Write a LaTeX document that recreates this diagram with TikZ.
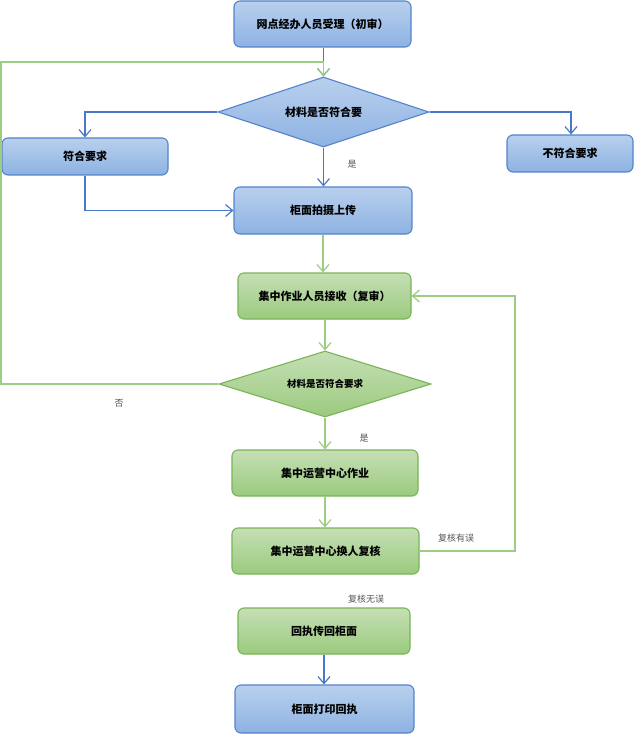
\documentclass[tikz,border=0pt]{standalone}
\usepackage{fontspec}
\newfontfamily\cjk{Noto Sans CJK SC}
\usetikzlibrary{shapes.geometric,arrows.meta}
\definecolor{bborder}{HTML}{5483CC}
\definecolor{btop}{HTML}{B9D0EE}
\definecolor{bbot}{HTML}{8DB2E2}
\definecolor{gborder}{HTML}{79B456}
\definecolor{gtop}{HTML}{C5DFB5}
\definecolor{gbot}{HTML}{9BCA7E}
\definecolor{bline}{HTML}{4A78C9}
\definecolor{gline}{HTML}{9DCD80}
\definecolor{lblgray}{HTML}{555555}
\begin{document}
\begin{tikzpicture}[x=1pt,y=-1pt,
  boxtext/.style={font=\cjk\bfseries\fontsize{11}{13}\selectfont,text=black,inner sep=0pt},
  bbox/.style={boxtext,draw=bborder,line width=1.1pt,rounded corners=6pt,top color=btop,bottom color=bbot},
  gbox/.style={boxtext,draw=gborder,line width=1.1pt,rounded corners=6pt,top color=gtop,bottom color=gbot},
  bdia/.style={boxtext,diamond,draw=bborder,line width=1.1pt,top color=btop,bottom color=bbot},
  gdia/.style={boxtext,diamond,draw=gborder,line width=1.1pt,top color=gtop,bottom color=gbot,font=\cjk\bfseries\fontsize{9.5}{11}\selectfont},
  bconn/.style={draw=bline,line width=1.2pt,-{Straight Barb[length=7pt,width=12pt]}},
  gconn/.style={draw=gline,line width=1.2pt,-{Straight Barb[length=7pt,width=12pt]}},
  lbl/.style={font=\cjk\fontsize{9}{11}\selectfont,text=lblgray,inner sep=0pt}
]
\useasboundingbox (0,0) rectangle (635,735);
\fill[white] (0,0) rectangle (635,735);

\node[bbox,minimum width=177pt,minimum height=46pt] (A) at (322.5,24) {网点经办人员受理（初审）};
\node[bdia,minimum width=211pt,minimum height=70pt,aspect=3] (D1) at (323.5,112) {材料是否符合要};
\node[bbox,minimum width=166pt,minimum height=37pt] (B) at (85,156.5) {符合要求};
\node[bbox,minimum width=126pt,minimum height=37pt] (C) at (570,153.5) {不符合要求};
\node[bbox,minimum width=178pt,minimum height=47pt] (E) at (323,210.5) {柜面拍摄上传};
\node[gbox,minimum width=173pt,minimum height=46pt] (F) at (324.5,296) {集中作业人员接收（复审）};
\node[gdia,minimum width=212pt,minimum height=66pt,aspect=3.2] (D2) at (325,384) {材料是否符合要求};
\node[gbox,minimum width=186pt,minimum height=46pt] (G) at (325,473) {集中运营中心作业};
\node[gbox,minimum width=187pt,minimum height=46pt] (H) at (325.5,551) {集中运营中心换人复核};
\node[gbox,minimum width=172pt,minimum height=46pt] (I) at (324,631) {回执传回柜面};
\node[bbox,minimum width=179pt,minimum height=48pt] (J) at (324.5,709) {柜面打印回执};

\coordinate (gl1) at (1,384);
\coordinate (gl2) at (1,62);
\coordinate (gl3) at (323.5,62);
\coordinate (gr1) at (515,551);
\coordinate (gr2) at (515,296);

\draw[bconn] (A.south -| D1.north) -- (D1.north);
\draw[bconn] (D1.west) -| (B.north);
\draw[bconn] (D1.east) -| ([xshift=1pt]C.north);
\draw[bconn] (D1.south) -- (D1.south |- E.north);
\draw[bconn] (B.south) |- (E.west);
\draw[gconn] (E.south) -- (E.south |- F.north);
\draw[gconn] (F.south -| D2.north) -- (D2.north);
\draw[gconn] (D2.west) -- (gl1) -- (gl2) -- (gl3) -- (D1.north);
\draw[gconn] (D2.south) -- (D2.south |- G.north);
\draw[gconn] (G.south) -- (G.south |- H.north);
\draw[gconn] (H.east) -- (gr1) -- (gr2) -- (F.east);
\draw[bconn] (I.south) -- (I.south |- J.north);

\node[lbl] (l1) at (352,164) {是};
\node[lbl] (l2) at (119,403) {否};
\node[lbl] (l3) at (364,438) {是};
\node[lbl] (l4) at (456,538) {复核有误};
\node[lbl] (l5) at (366,599) {复核无误};
\end{tikzpicture}
\end{document}
